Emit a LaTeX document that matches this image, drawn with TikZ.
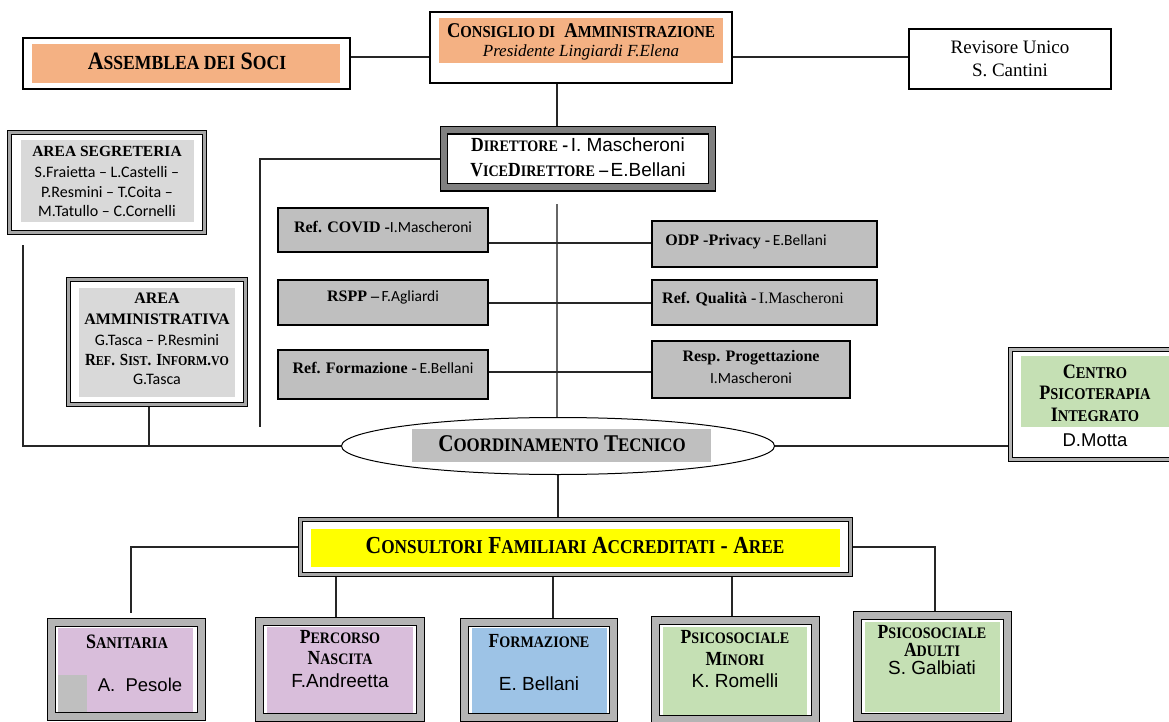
\documentclass[tikz,border=0pt]{standalone}
\usepackage{fontspec}
\usepackage{graphicx}
\setmainfont{Liberation Serif}
\newfontfamily\arial{Liberation Sans}
\newfontfamily\calib{Carlito}
\newfontfamily\scb[FakeStretch=0.88]{Liberation Serif}
\usetikzlibrary{shapes.geometric,backgrounds}
\newcommand\smc[1]{\scalebox{0.8}{#1}}
\newcommand\fsz[1]{\fontsize{#1}{#1}\selectfont}
\newcommand\scbf{\scb\bfseries}
\definecolor{orng}{HTML}{F4B183}
\definecolor{gr}{HTML}{BFBFBF}
\definecolor{lgr}{HTML}{D9D9D9}
\definecolor{bandd}{HTML}{808080}
\definecolor{bandl}{HTML}{B4B4B4}
\definecolor{pinkf}{HTML}{D9BEDB}
\definecolor{bluef}{HTML}{9DC3E6}
\definecolor{greenf}{HTML}{C5E0B4}
\definecolor{yel}{HTML}{FFFF00}
\begin{document}
\begin{tikzpicture}[x=1pt,y=-1pt,
  box/.style={draw=black, line width=1.3pt, fill=white, inner sep=0pt, outer sep=0pt},
  refbox/.style={draw=black, line width=1.3pt, fill=gr, inner sep=0pt, outer sep=0pt},
  dirframe/.style={draw=black, line width=1.2pt, double=bandd, double distance=6pt, fill=white, inner sep=0pt, outer sep=0pt},
  trip/.style={draw=black, line width=1pt, double=gray!70, double distance=2.5pt, fill=white, inner sep=0pt, outer sep=0pt},
  ctrframe/.style={draw=black, line width=1.2pt, double=bandl, double distance=3pt, fill=white, inner sep=0pt, outer sep=0pt},
  botframe/.style={draw=black, line width=1.2pt, double=bandl, double distance=7pt, fill=white, inner sep=0pt, outer sep=0pt},
  conn/.style={line width=1.2pt, black!85},
  txt/.style={inner sep=0pt, align=center, anchor=center}]
\useasboundingbox (0,0) rectangle (1169,722);
\clip (0,0) rectangle (1169,722);

% ---------- top row
\node[box, minimum width=327pt, minimum height=51pt] (assemblea) at (186.5,63.5) {};
\fill[orng] (32,44) rectangle (340,83);
\node[txt] (tass) at (187,61) {\scbf\fsz{25}A\smc{SSEMBLEA DEI} S\smc{OCI}};

\node[box, minimum width=302pt, minimum height=71pt] (consiglio) at (581,47.5) {};
\fill[orng] (439,18) rectangle (723,63);
\node[txt] (tcons1) at (581,31) {\scbf\fsz{21}C\smc{ONSIGLIO DI}\ \ A\smc{MMINISTRAZIONE}};
\node[txt] (tcons2) at (581,52) {\itshape\fsz{17}Presidente Lingiardi F.Elena};

\node[box, minimum width=202pt, minimum height=60pt] (revisore) at (1010,59) {};
\node[txt] (trev1) at (1010,47) {\fsz{19}Revisore Unico};
\node[txt] (trev2) at (1010,70) {\fsz{19}S. Cantini};

% ---------- direttore
\node[dirframe, minimum width=268pt, minimum height=57pt] (direttore) at (578,159) {};
\node[txt] (tdir1) at (578,145) {{\scbf\fsz{20}D\smc{IRETTORE} -} {\arial\fsz{19}I. Mascheroni}};
\node[txt] (tdir2) at (578,170) {{\scbf\fsz{20}V\smc{ICE}D\smc{IRETTORE} –} {\arial\fsz{19}E.Bellani}};

% ---------- referenti
\node[refbox, minimum width=210pt, minimum height=44pt] (covid) at (383,230) {};
\node[refbox, minimum width=210pt, minimum height=45pt] (rspp) at (383,302.5) {};
\node[refbox, minimum width=210pt, minimum height=49pt] (refform) at (383,374.5) {};
\node[refbox, minimum width=225pt, minimum height=46pt] (odp) at (764.5,244) {};
\node[refbox, minimum width=225pt, minimum height=45pt] (qual) at (764.5,302.5) {};
\node[refbox, minimum width=198pt, minimum height=57pt] (resp) at (751,369.5) {};
\node[txt] (tcovid) at (383,227) {{\bfseries\fsz{16}Ref. COVID -}{\calib\fsz{15.5}I.Mascheroni}};
\node[txt] (trspp) at (383,297) {{\bfseries\fsz{16}RSPP –} {\calib\fsz{15.5}F.Agliardi}};
\node[txt] (trefform) at (383,368) {{\bfseries\fsz{16}Ref. Formazione -} {\calib\fsz{15.5}E.Bellani}};
\node[txt] (todp) at (746,242) {{\bfseries\fsz{16}ODP -Privacy -} {\calib\fsz{15.5}E.Bellani}};
\node[txt] (tqual) at (753,299) {{\bfseries\fsz{16}Ref. Qualità -} {\fsz{16}I.Mascheroni}};
\node[txt] (tresp1) at (751,358) {\bfseries\fsz{16}Resp. Progettazione};
\node[txt] (tresp2) at (751,378) {\calib\fsz{15.5}I.Mascheroni};

% ---------- left areas
\node[trip, minimum width=195pt, minimum height=100pt] (segr) at (107,182.5) {};
\fill[lgr] (21,140) rectangle (194,222);
\node[txt] (tsegr1) at (107,151) {\bfseries\fsz{15.5}AREA SEGRETERIA};
\node[txt] (tsegr2) at (107,172) {\calib\fsz{16}S.Fraietta – L.Castelli –};
\node[txt] (tsegr3) at (107,192) {\calib\fsz{16}P.Resmini – T.Coita –};
\node[txt] (tsegr4) at (107,211) {\calib\fsz{16}M.Tatullo – C.Cornelli};

\node[trip, minimum width=177pt, minimum height=125pt] (admin) at (157,342) {};
\fill[lgr] (79,288) rectangle (235,397);
\node[txt] (tadm1) at (157,298) {\bfseries\fsz{16}AREA};
\node[txt] (tadm2) at (157,319) {\bfseries\fsz{16}AMMINISTRATIVA};
\node[txt] (tadm3) at (157,340) {\calib\fsz{16}G.Tasca – P.Resmini};
\node[txt] (tadm4) at (157,360) {\scbf\fsz{17}R\smc{EF}. S\smc{IST}. I\smc{NFORM}.\smc{VO}};
\node[txt] (tadm5) at (157,379) {\calib\fsz{16}G.Tasca};

% ---------- coordinamento
\node[ellipse, draw=black, line width=1pt, fill=white, minimum width=433pt, minimum height=57pt, inner sep=0pt, outer sep=0pt] (coord) at (558,446) {};
\fill[gr] (412,429) rectangle (711,462);
\node[txt] (tcoord) at (562,444) {\scbf\fsz{24}C\smc{OORDINAMENTO} T\smc{ECNICO}};

% ---------- centro psicoterapia
\node[ctrframe, minimum width=179pt, minimum height=109.6pt] (centro) at (1100,404.5) {};
\fill[greenf] (1021,356) rectangle (1175,427);
\node[txt] (tcen1) at (1095,372) {\scbf\fsz{20.5}C\smc{ENTRO}};
\node[txt] (tcen2) at (1095,393) {\scbf\fsz{20.5}P\smc{SICOTERAPIA}};
\node[txt] (tcen3) at (1095,415) {\scbf\fsz{20.5}I\smc{NTEGRATO}};
\node[txt] (tcen4) at (1095,440) {\arial\fsz{18.5}D.Motta};

% ---------- consultori
\node[trip, minimum width=550pt, minimum height=55pt] (cons) at (575.5,547) {};
\fill[yel] (311,529) rectangle (840,567);
\node[txt] (tconsul) at (575,546) {\scbf\fsz{24.5}C\smc{ONSULTORI} F\smc{AMILIARI} A\smc{CCREDITATI} - A\smc{REE}};

% ---------- bottom areas
\node[botframe, minimum width=149.6pt, minimum height=93.6pt] (san) at (126.5,669.5) {};
\fill[pinkf] (58,628) rectangle (193,712);
\fill[gr] (58,675) rectangle (87,712);
\node[txt] (tsan1) at (127,642) {\scbf\fsz{20.5}S\smc{ANITARIA}};
\node[txt] (tsan2) at (140,685) {\arial\fsz{18.5}A.\ \ Pesole};

\node[botframe, minimum width=160.6pt, minimum height=95.6pt] (perc) at (340,669.5) {};
\fill[pinkf] (267,627) rectangle (413,713);
\node[txt] (tperc1) at (340,637) {\scbf\fsz{20}P\smc{ERCORSO}};
\node[txt] (tperc2) at (340,658) {\scbf\fsz{20}N\smc{ASCITA}};
\node[txt] (tperc3) at (340,681) {\arial\fsz{19}F.Andreetta};

\node[botframe, minimum width=148.6pt, minimum height=94.6pt] (form) at (539,670) {};
\fill[bluef] (472,628) rectangle (607,713);
\node[txt] (tform1) at (539,641) {\scbf\fsz{20}F\smc{ORMAZIONE}};
\node[txt] (tform2) at (539,684) {\arial\fsz{19}E. Bellani};

\node[botframe, minimum width=159.6pt, minimum height=98.6pt] (minori) at (735.5,670) {};
\fill[greenf] (663,627) rectangle (807,715);
\node[txt] (tmin1) at (735,637) {\scbf\fsz{20}P\smc{SICOSOCIALE}};
\node[txt] (tmin2) at (735,659) {\scbf\fsz{20}M\smc{INORI}};
\node[txt] (tmin3) at (735,681) {\arial\fsz{19}K. Romelli};

\node[botframe, minimum width=149.6pt, minimum height=101.6pt] (adulti) at (932.5,666.5) {};
\fill[greenf] (865,622) rectangle (1000,712);
\node[txt] (tad1) at (932,632) {\scbf\fsz{20}P\smc{SICOSOCIALE}};
\node[txt] (tad2) at (932,650) {\scbf\fsz{20}A\smc{DULTI}};
\node[txt] (tad3) at (932,668) {\arial\fsz{19}S. Galbiati};

% ---------- connectors
\begin{scope}[on background layer]
\coordinate (ly) at (0,57);
\coordinate (xc) at (557,0);
\coordinate (dl) at (260,427);
\coordinate (ctop) at (557,204);
\coordinate (r1) at (0,243);
\coordinate (r2) at (0,303);
\coordinate (r3) at (0,372);
\coordinate (sg) at (23,245);
\coordinate (ax) at (149,0);
\coordinate (sl) at (131,613);
\coordinate (px) at (336,0);
\coordinate (fx) at (553,0);
\coordinate (mx) at (732,0);
\coordinate (dx) at (935,0);
\draw[conn] (assemblea.east |- ly) -- (consiglio.west |- ly);
\draw[conn] (consiglio.east |- ly) -- (revisore.west |- ly);
\draw[conn] (consiglio.south -| xc) -- (direttore.north -| xc);
\draw[conn] (direttore.west) -| (dl);
\draw[conn, black!60] (ctop) -- (ctop |- coord.north);
\draw[conn] (covid.east |- r1) -- (odp.west |- r1);
\draw[conn] (rspp.east |- r2) -- (qual.west |- r2);
\draw[conn] (refform.east |- r3) -- (resp.west |- r3);
\draw[conn] (sg) |- (coord.west);
\draw[conn] (admin.south -| ax) -- (ax |- coord.west);
\draw[conn] (coord.east) -- (coord.east -| centro.west);
\draw[conn] (coord.south) -- (cons.north -| coord.south);
\draw[conn] (cons.west) -| (sl);
\draw[conn] (cons.south -| px) -- (perc.north -| px);
\draw[conn] (cons.south -| fx) -- (form.north -| fx);
\draw[conn] (cons.south -| mx) -- (minori.north -| mx);
\draw[conn] (cons.east) -| (adulti.north -| dx);
\end{scope}
\end{tikzpicture}
\end{document}
